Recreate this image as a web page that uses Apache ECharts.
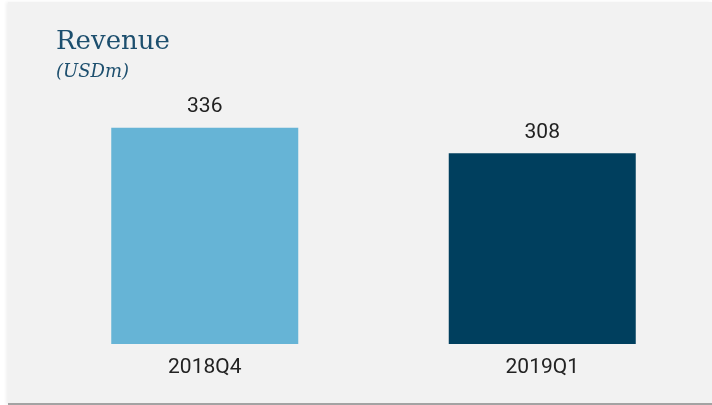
<!DOCTYPE html>
<html>
<head>
<meta charset="utf-8">
<script src="https://cdn.jsdelivr.net/npm/echarts@6/dist/echarts.min.js"></script>
<style>
  html, body { margin: 0; padding: 0; background: #ffffff; width: 712px; height: 405px; overflow: hidden; }
  #panel {
    position: absolute; left: 8px; top: 2px; width: 704px; height: 401px;
    background: #f2f2f2; border-bottom: 2px solid #a3a3a3;
    box-shadow: -2px 0 3px rgba(0,0,0,0.06);
  }
  #chart { position: absolute; left: 0; top: 0; width: 712px; height: 405px; }
</style>
</head>
<body>
<div id="panel"></div>
<div id="chart"></div>
<script>
// 数据
const categories = ['2018Q4', '2019Q1'];
const revenue = [336, 308];
const barColors = ['#66b4d6', '#003f5e'];

window.addEventListener('load', function () {
    const chart = echarts.init(document.getElementById('chart'), null, { renderer: 'canvas' });

    const option = {
        backgroundColor: 'transparent',
        animation: false,
        title: {
            text: 'Revenue',
            subtext: '(USDm)',
            left: 51,
            top: 24,
            itemGap: 8,
            textStyle: {
                fontFamily: 'DejaVu Serif',
                fontWeight: 'normal',
                fontSize: 26,
                color: '#1d4f6e'
            },
            subtextStyle: {
                fontFamily: 'DejaVu Serif',
                fontStyle: 'italic',
                fontSize: 18,
                color: '#1d4f6e'
            }
        },
        grid: {
            left: 36,
            right: 1,
            top: 69,
            bottom: 61
        },
        xAxis: {
            type: 'category',
            data: categories,
            axisLine: { show: false },
            axisTick: { show: false },
            axisLabel: {
                margin: 13,
                fontFamily: 'Roboto',
                fontSize: 21,
                color: '#222222'
            }
        },
        yAxis: {
            type: 'value',
            min: 100,
            max: 400,
            show: false,
            splitLine: { show: false }
        },
        series: [{
            type: 'bar',
            barWidth: 187,
            data: revenue.map(function (v, i) {
                return { value: v, itemStyle: { color: barColors[i] } };
            }),
            label: {
                show: true,
                position: 'top',
                distance: 10,
                fontFamily: 'Roboto',
                fontSize: 21,
                color: '#222222'
            }
        }]
    };

    chart.setOption(option);
});
</script>
</body>
</html>
